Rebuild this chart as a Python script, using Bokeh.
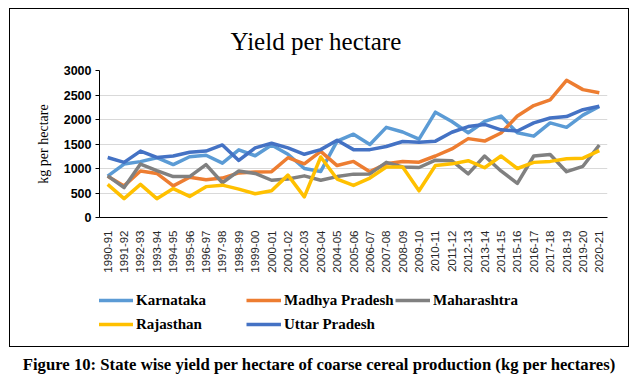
from math import pi
from bokeh.plotting import figure
from bokeh.models import Legend, LegendItem, Div, FactorRange, Range1d
from bokeh.layouts import column
from bokeh.embed import file_html
from bokeh.resources import INLINE

years = ["1990-91", "1991-92", "1992-93", "1993-94", "1994-95", "1995-96", "1996-97",
         "1997-98", "1998-99", "1999-00", "2000-01", "2001-02", "2002-03", "2003-04",
         "2004-05", "2005-06", "2006-07", "2007-08", "2008-09", "2009-10", "2010-11",
         "2011-12", "2012-13", "2013-14", "2014-15", "2015-16", "2016-17", "2017-18",
         "2018-19", "2019-20", "2020-21"]

karnataka = [845, 1090, 1140, 1220, 1080, 1240, 1270, 1110, 1380, 1260, 1480, 1290, 1000, 940,
             1560, 1700, 1490, 1840, 1745, 1600, 2150, 1960, 1730, 1960, 2070, 1730, 1660,
             1930, 1840, 2090, 2265]
madhya_pradesh = [840, 645, 950, 900, 645, 820, 770, 805, 910, 930, 935, 1220, 1095, 1350, 1060,
                  1145, 935, 1095, 1145, 1130, 1255, 1400, 1610, 1560, 1725, 2070, 2285, 2400,
                  2800, 2610, 2545]
maharashtra = [850, 610, 1090, 955, 835, 835, 1080, 710, 950, 900, 760, 785, 850, 760, 835, 885,
               890, 1125, 1030, 1020, 1170, 1160, 890, 1255, 950, 695, 1255, 1285, 935, 1045, 1480]
rajasthan = [675, 385, 675, 385, 590, 430, 630, 660, 580, 485, 545, 865, 420, 1235, 785, 655, 805,
             1030, 1030, 545, 1060, 1095, 1160, 1015, 1255, 1000, 1125, 1145, 1200, 1210, 1365]
uttar_pradesh = [1225, 1125, 1355, 1225, 1255, 1330, 1355, 1480, 1165, 1420, 1515, 1420, 1290,
                 1385, 1575, 1385, 1385, 1450, 1550, 1535, 1558, 1740, 1855, 1900, 1790, 1765,
                 1930, 2030, 2060, 2200, 2270]

series_names = ["Karnataka", "Madhya Pradesh", "Maharashtra", "Rajasthan", "Uttar Pradesh"]
series_values = [karnataka, madhya_pradesh, maharashtra, rajasthan, uttar_pradesh]
series_colors = ["#5B9BD5", "#ED7D31", "#808080", "#FFC000", "#4472C4"]
y_ticks = [0, 500, 1000, 1500, 2000, 2500, 3000]

title_text = "Yield per hectare"
y_label = "kg per hectare"
caption_text = "Figure 10: State wise yield per hectare of coarse cereal production (kg per hectares)"

# ---- main chart ----
p = figure(x_range=FactorRange(*years), y_range=Range1d(0, 3000),
           width=618, height=266, output_backend="svg", toolbar_location=None,
           min_border_left=89, min_border_right=21, min_border_top=58, min_border_bottom=20)

p.title.text = title_text
p.title.align = "left"
p.title.offset = 131
p.title.standoff = 32
p.title.text_font = "Liberation Serif"
p.title.text_font_style = "normal"
p.title.text_font_size = "25px"
p.title.text_color = "#000000"

for name, vals, col in zip(series_names, series_values, series_colors):
    p.line(years, vals, line_color=col, line_width=3.5, line_join="round")

p.outline_line_color = None
p.xgrid.grid_line_color = None
p.ygrid.grid_line_color = "#d9d9d9"
p.ygrid.grid_line_width = 1

p.yaxis.ticker = y_ticks
p.yaxis.axis_label = y_label
p.yaxis.axis_label_text_font = "Liberation Serif"
p.yaxis.axis_label_text_font_style = "normal"
p.yaxis.axis_label_text_font_size = "14px"
p.yaxis.axis_label_text_color = "#000000"
p.yaxis.axis_label_standoff = 10
p.yaxis.major_label_text_font = "Liberation Sans"
p.yaxis.major_label_text_font_style = "bold"
p.yaxis.major_label_text_font_size = "12.5px"
p.yaxis.major_label_text_color = "#000000"
p.yaxis.axis_line_color = "#000000"
p.yaxis.major_tick_line_color = "#000000"
p.yaxis.major_tick_out = 4
p.yaxis.major_tick_in = 0
p.yaxis.minor_tick_line_color = None
p.yaxis.major_label_standoff = 4

p.xaxis.major_label_orientation = pi / 2
p.xaxis.major_label_text_font = "Liberation Sans"
p.xaxis.major_label_text_font_size = "11.5px"
p.xaxis.major_label_text_color = "#262626"
p.xaxis.axis_line_color = "#000000"
p.xaxis.major_tick_line_color = None
p.xaxis.major_label_standoff = 7

# ---- legend strip (keys only; the single points lie outside its ranges) ----
lg = figure(width=618, height=71, output_backend="svg", toolbar_location=None,
            x_range=Range1d(0, 1), y_range=Range1d(0, 1),
            x_axis_location=None, y_axis_location=None, min_border=0)
lg.outline_line_color = None
lg.xgrid.grid_line_color = None
lg.ygrid.grid_line_color = None

keys = {}
for name, vals, col in zip(series_names, series_values, series_colors):
    keys[name] = lg.line(x=[0], y=[vals[0]], line_color=col, line_width=3.5)

def make_legend(names, loc):
    its = [LegendItem(label=n, renderers=[keys[n]]) for n in names]
    return Legend(items=its, location=loc, orientation="vertical",
                  glyph_width=35, glyph_height=20, label_height=20,
                  label_standoff=3, spacing=4, padding=2, margin=0,
                  label_text_font="Liberation Serif", label_text_font_style="bold",
                  label_text_font_size="15px", label_text_color="#000000",
                  border_line_color=None, background_fill_alpha=0)

lg.add_layout(make_legend(["Karnataka", "Rajasthan"], (-1, 12)))
lg.add_layout(make_legend(["Madhya Pradesh", "Uttar Pradesh"], (147, 12)))
lg.add_layout(make_legend(["Maharashtra"], (296, 36)))

box = column(p, lg, spacing=0, margin=(8, 0, 0, 9),
             styles={"border": "1px solid #000000"})

caption = Div(text=caption_text, width=620, margin=(6, 0, 0, 9),
              styles={"text-align": "center", "font-family": "Liberation Serif",
                      "font-weight": "bold", "font-size": "16.7px", "color": "#000000"})

layout = column(box, caption, spacing=0)

open("out.html", "w").write(file_html(layout, INLINE))
